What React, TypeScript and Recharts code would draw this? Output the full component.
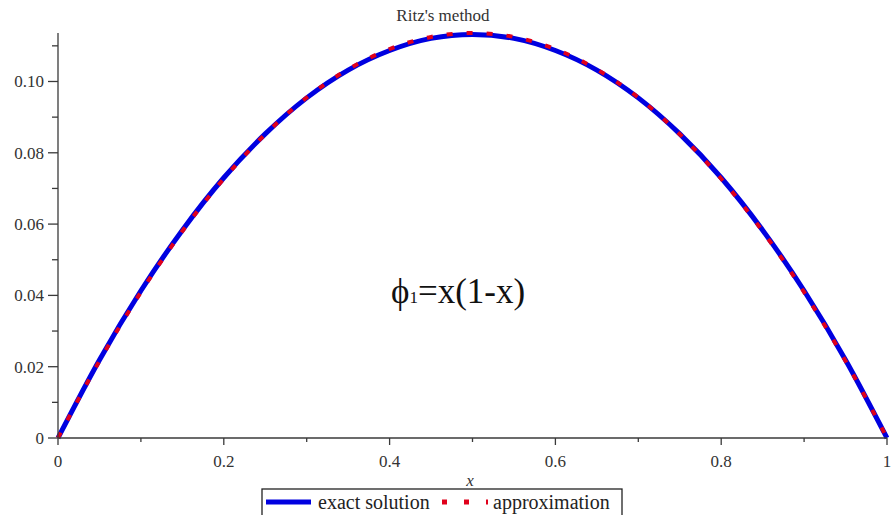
import React from 'react';
import { LineChart, Line, XAxis, YAxis } from 'recharts';

// sample points
const xValues = [0, 0.05, 0.1, 0.15, 0.2, 0.25, 0.3, 0.35, 0.4, 0.45, 0.5, 0.55, 0.6, 0.65, 0.7, 0.75, 0.8, 0.85, 0.9, 0.95, 1];
const exactValues = [0, 0.0219, 0.0413, 0.0583, 0.073, 0.0853, 0.0954, 0.1032, 0.1087, 0.1121, 0.1132, 0.1121, 0.1087, 0.1032, 0.0954, 0.0853, 0.073, 0.0583, 0.0413, 0.0219, 0];
const approxValues = [0, 0.0216, 0.0409, 0.058, 0.0727, 0.0852, 0.0955, 0.1034, 0.1091, 0.1125, 0.1136, 0.1125, 0.1091, 0.1034, 0.0955, 0.0852, 0.0727, 0.058, 0.0409, 0.0216, 0];

const xMajorTicks = [0, 0.2, 0.4, 0.6, 0.8, 1];
const xMinorTicks = [0.1, 0.3, 0.5, 0.7, 0.9];
const xTickLabels = ['0', '0.2', '0.4', '0.6', '0.8', '1'];
const yMajorTicks = [0, 0.02, 0.04, 0.06, 0.08, 0.1];
const yMinorTicks = [0.01, 0.03, 0.05, 0.07, 0.09, 0.11];
const yTickLabels = ['0', '0.02', '0.04', '0.06', '0.08', '0.10'];

const seriesNames = ['exact solution', 'approximation'];
const title = "Ritz's method";

const data = xValues.map((x, i) => ({ x, exact: exactValues[i], approx: approxValues[i] }));

const FONT = "'Liberation Serif', 'Times New Roman', serif";
const AXIS = '#3a3a3a';
const BLUE = '#0000e0';
const RED = '#e0001b';

const XTick = (props: any) => {
  const { x, y, payload } = props;
  const idx = xMajorTicks.indexOf(payload.value);
  const major = idx >= 0;
  return (
    <g>
      <line x1={x} x2={x} y1={y} y2={y + (major ? 7 : 4)} stroke={AXIS} strokeWidth={1.3} />
      {major && (
        <text x={x} y={y + 29} textAnchor="middle" fontSize={17} style={{ fontFamily: FONT }} fill="#333">
          {xTickLabels[idx]}
        </text>
      )}
    </g>
  );
};

const YTick = (props: any) => {
  const { x, y, payload } = props;
  const idx = yMajorTicks.indexOf(payload.value);
  const major = idx >= 0;
  return (
    <g>
      <line x1={x - (major ? 10 : 6)} x2={x} y1={y} y2={y} stroke={AXIS} strokeWidth={1.3} />
      {major && (
        <text x={x - 14} y={y + 6} textAnchor="end" fontSize={17} style={{ fontFamily: FONT }} fill="#333">
          {yTickLabels[idx]}
        </text>
      )}
    </g>
  );
};

export default function App() {
  return (
    <div style={{ position: 'absolute', left: 0, top: 0, width: 891, height: 515, overflow: 'hidden', background: '#fff' }}>
      <LineChart width={891} height={515} data={data} margin={{ top: 33, right: 4, left: 0, bottom: 0 }}>
        <XAxis
          dataKey="x"
          type="number"
          domain={[0, 1]}
          ticks={[...xMajorTicks, ...xMinorTicks].sort((a, b) => a - b)}
          interval={0}
          height={77}
          tickSize={0}
          tickMargin={0}
          tickLine={false}
          axisLine={{ stroke: AXIS, strokeWidth: 1.3 }}
          tick={<XTick />}
        />
        <YAxis
          type="number"
          domain={[0, 0.1136]}
          ticks={[...yMajorTicks, ...yMinorTicks].sort((a, b) => a - b)}
          interval={0}
          width={58}
          tickSize={0}
          tickMargin={0}
          tickLine={false}
          axisLine={{ stroke: AXIS, strokeWidth: 1.3 }}
          tick={<YTick />}
        />
        <Line
          type="monotone"
          dataKey="exact"
          name={seriesNames[0]}
          stroke={BLUE}
          strokeWidth={5}
          dot={false}
          isAnimationActive={false}
        />
        <Line
          type="monotone"
          dataKey="approx"
          name={seriesNames[1]}
          stroke={RED}
          strokeWidth={4}
          strokeDasharray="6 14"
          dot={false}
          isAnimationActive={false}
        />
      </LineChart>
      <svg width={891} height={515} style={{ position: 'absolute', left: 0, top: 0, pointerEvents: 'none', fontFamily: FONT }}>
        <text x={443} y={21} textAnchor="middle" fontSize={17} fill="#333">
          {title}
        </text>
        <text x={391} y={303} fontSize={35} fill="#111">
          <tspan>ϕ</tspan>
          <tspan fontSize={17}>1</tspan>
          <tspan>=x(1-x)</tspan>
        </text>
        <text x={470} y={486} textAnchor="middle" fontSize={17} fontStyle="italic" fill="#333">
          x
        </text>
        <rect x={262} y={489} width={360} height={40} fill="#fff" stroke="#222" strokeWidth={1.3} />
        <line x1={266} x2={311} y1={502} y2={502} stroke={BLUE} strokeWidth={5} />
        <text x={318} y={509} fontSize={20} fill="#222">
          {seriesNames[0]}
        </text>
        <line x1={442} x2={488} y1={502} y2={502} stroke={RED} strokeWidth={5} strokeDasharray="5 17" />
        <text x={493} y={509} fontSize={20} fill="#222">
          {seriesNames[1]}
        </text>
      </svg>
    </div>
  );
}
